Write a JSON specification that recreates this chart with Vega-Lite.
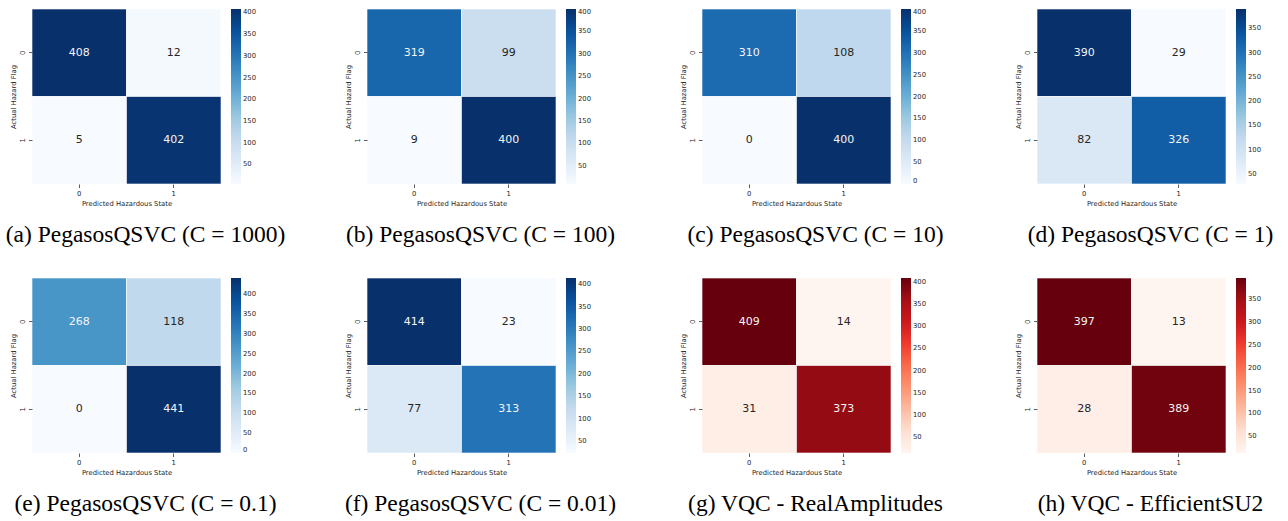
{
  "$schema": "https://vega.github.io/schema/vega-lite/v6.json",
  "background": "white",
  "padding": {"left": 5, "top": 8, "right": 5, "bottom": 2},
  "data": {"values": [
    {"panel": "a", "actual": 0, "predicted": 0, "count": 408},
    {"panel": "a", "actual": 0, "predicted": 1, "count": 12},
    {"panel": "a", "actual": 1, "predicted": 0, "count": 5},
    {"panel": "a", "actual": 1, "predicted": 1, "count": 402},
    {"panel": "b", "actual": 0, "predicted": 0, "count": 319},
    {"panel": "b", "actual": 0, "predicted": 1, "count": 99},
    {"panel": "b", "actual": 1, "predicted": 0, "count": 9},
    {"panel": "b", "actual": 1, "predicted": 1, "count": 400},
    {"panel": "c", "actual": 0, "predicted": 0, "count": 310},
    {"panel": "c", "actual": 0, "predicted": 1, "count": 108},
    {"panel": "c", "actual": 1, "predicted": 0, "count": 0},
    {"panel": "c", "actual": 1, "predicted": 1, "count": 400},
    {"panel": "d", "actual": 0, "predicted": 0, "count": 390},
    {"panel": "d", "actual": 0, "predicted": 1, "count": 29},
    {"panel": "d", "actual": 1, "predicted": 0, "count": 82},
    {"panel": "d", "actual": 1, "predicted": 1, "count": 326},
    {"panel": "e", "actual": 0, "predicted": 0, "count": 268},
    {"panel": "e", "actual": 0, "predicted": 1, "count": 118},
    {"panel": "e", "actual": 1, "predicted": 0, "count": 0},
    {"panel": "e", "actual": 1, "predicted": 1, "count": 441},
    {"panel": "f", "actual": 0, "predicted": 0, "count": 414},
    {"panel": "f", "actual": 0, "predicted": 1, "count": 23},
    {"panel": "f", "actual": 1, "predicted": 0, "count": 77},
    {"panel": "f", "actual": 1, "predicted": 1, "count": 313},
    {"panel": "g", "actual": 0, "predicted": 0, "count": 409},
    {"panel": "g", "actual": 0, "predicted": 1, "count": 14},
    {"panel": "g", "actual": 1, "predicted": 0, "count": 31},
    {"panel": "g", "actual": 1, "predicted": 1, "count": 373},
    {"panel": "h", "actual": 0, "predicted": 0, "count": 397},
    {"panel": "h", "actual": 0, "predicted": 1, "count": 13},
    {"panel": "h", "actual": 1, "predicted": 0, "count": 28},
    {"panel": "h", "actual": 1, "predicted": 1, "count": 389}
  ]},
  "concat": [
    {
      "width": 189, "height": 175,
      "title": {"text": "(a) PegasosQSVC (C = 1000)"},
      "transform": [{"filter": "datum.panel == 'a'"}],
      "encoding": {
        "x": {"field": "predicted", "type": "ordinal", "title": "Predicted Hazardous State"},
        "y": {"field": "actual", "type": "ordinal", "title": "Actual Hazard Flag"}
      },
      "layer": [
        {"mark": {"type": "rect", "stroke": "white", "strokeWidth": 1, "strokeOpacity": 0.6},
         "encoding": {"color": {"field": "count", "type": "quantitative",
           "scale": {"range": ["#f7fbff", "#deebf7", "#c6dbef", "#9ecae1", "#6baed6", "#4292c6", "#2171b5", "#08519c", "#08306b"], "interpolate": "rgb", "zero": false, "nice": false},
           "legend": {"values": [50, 100, 150, 200, 250, 300, 350, 400]}}}},
        {"mark": {"type": "text", "fontSize": 11, "font": "DejaVu Sans"},
         "encoding": {"text": {"field": "count", "type": "quantitative"},
           "color": {"condition": {"test": "datum.count > 200", "value": "#f4f4f4"}, "value": "#262626"}}}
      ]
    },
    {
      "width": 189, "height": 175,
      "title": {"text": "(b) PegasosQSVC (C = 100)"},
      "transform": [{"filter": "datum.panel == 'b'"}],
      "encoding": {
        "x": {"field": "predicted", "type": "ordinal", "title": "Predicted Hazardous State"},
        "y": {"field": "actual", "type": "ordinal", "title": "Actual Hazard Flag"}
      },
      "layer": [
        {"mark": {"type": "rect", "stroke": "white", "strokeWidth": 1, "strokeOpacity": 0.6},
         "encoding": {"color": {"field": "count", "type": "quantitative",
           "scale": {"range": ["#f7fbff", "#deebf7", "#c6dbef", "#9ecae1", "#6baed6", "#4292c6", "#2171b5", "#08519c", "#08306b"], "interpolate": "rgb", "zero": false, "nice": false},
           "legend": {"values": [50, 100, 150, 200, 250, 300, 350, 400]}}}},
        {"mark": {"type": "text", "fontSize": 11, "font": "DejaVu Sans"},
         "encoding": {"text": {"field": "count", "type": "quantitative"},
           "color": {"condition": {"test": "datum.count > 200", "value": "#f4f4f4"}, "value": "#262626"}}}
      ]
    },
    {
      "width": 189, "height": 175,
      "title": {"text": "(c) PegasosQSVC (C = 10)"},
      "transform": [{"filter": "datum.panel == 'c'"}],
      "encoding": {
        "x": {"field": "predicted", "type": "ordinal", "title": "Predicted Hazardous State"},
        "y": {"field": "actual", "type": "ordinal", "title": "Actual Hazard Flag"}
      },
      "layer": [
        {"mark": {"type": "rect", "stroke": "white", "strokeWidth": 1, "strokeOpacity": 0.6},
         "encoding": {"color": {"field": "count", "type": "quantitative",
           "scale": {"range": ["#f7fbff", "#deebf7", "#c6dbef", "#9ecae1", "#6baed6", "#4292c6", "#2171b5", "#08519c", "#08306b"], "interpolate": "rgb", "zero": false, "nice": false},
           "legend": {"values": [0, 50, 100, 150, 200, 250, 300, 350, 400]}}}},
        {"mark": {"type": "text", "fontSize": 11, "font": "DejaVu Sans"},
         "encoding": {"text": {"field": "count", "type": "quantitative"},
           "color": {"condition": {"test": "datum.count > 200", "value": "#f4f4f4"}, "value": "#262626"}}}
      ]
    },
    {
      "width": 189, "height": 175,
      "title": {"text": "(d) PegasosQSVC (C = 1)"},
      "transform": [{"filter": "datum.panel == 'd'"}],
      "encoding": {
        "x": {"field": "predicted", "type": "ordinal", "title": "Predicted Hazardous State"},
        "y": {"field": "actual", "type": "ordinal", "title": "Actual Hazard Flag"}
      },
      "layer": [
        {"mark": {"type": "rect", "stroke": "white", "strokeWidth": 1, "strokeOpacity": 0.6},
         "encoding": {"color": {"field": "count", "type": "quantitative",
           "scale": {"range": ["#f7fbff", "#deebf7", "#c6dbef", "#9ecae1", "#6baed6", "#4292c6", "#2171b5", "#08519c", "#08306b"], "interpolate": "rgb", "zero": false, "nice": false},
           "legend": {"values": [50, 100, 150, 200, 250, 300, 350]}}}},
        {"mark": {"type": "text", "fontSize": 11, "font": "DejaVu Sans"},
         "encoding": {"text": {"field": "count", "type": "quantitative"},
           "color": {"condition": {"test": "datum.count > 200", "value": "#f4f4f4"}, "value": "#262626"}}}
      ]
    },
    {
      "width": 189, "height": 175,
      "title": {"text": "(e) PegasosQSVC (C = 0.1)"},
      "transform": [{"filter": "datum.panel == 'e'"}],
      "encoding": {
        "x": {"field": "predicted", "type": "ordinal", "title": "Predicted Hazardous State"},
        "y": {"field": "actual", "type": "ordinal", "title": "Actual Hazard Flag"}
      },
      "layer": [
        {"mark": {"type": "rect", "stroke": "white", "strokeWidth": 1, "strokeOpacity": 0.6},
         "encoding": {"color": {"field": "count", "type": "quantitative",
           "scale": {"range": ["#f7fbff", "#deebf7", "#c6dbef", "#9ecae1", "#6baed6", "#4292c6", "#2171b5", "#08519c", "#08306b"], "interpolate": "rgb", "zero": false, "nice": false},
           "legend": {"values": [0, 50, 100, 150, 200, 250, 300, 350, 400]}}}},
        {"mark": {"type": "text", "fontSize": 11, "font": "DejaVu Sans"},
         "encoding": {"text": {"field": "count", "type": "quantitative"},
           "color": {"condition": {"test": "datum.count > 200", "value": "#f4f4f4"}, "value": "#262626"}}}
      ]
    },
    {
      "width": 189, "height": 175,
      "title": {"text": "(f) PegasosQSVC (C = 0.01)"},
      "transform": [{"filter": "datum.panel == 'f'"}],
      "encoding": {
        "x": {"field": "predicted", "type": "ordinal", "title": "Predicted Hazardous State"},
        "y": {"field": "actual", "type": "ordinal", "title": "Actual Hazard Flag"}
      },
      "layer": [
        {"mark": {"type": "rect", "stroke": "white", "strokeWidth": 1, "strokeOpacity": 0.6},
         "encoding": {"color": {"field": "count", "type": "quantitative",
           "scale": {"range": ["#f7fbff", "#deebf7", "#c6dbef", "#9ecae1", "#6baed6", "#4292c6", "#2171b5", "#08519c", "#08306b"], "interpolate": "rgb", "zero": false, "nice": false},
           "legend": {"values": [50, 100, 150, 200, 250, 300, 350, 400]}}}},
        {"mark": {"type": "text", "fontSize": 11, "font": "DejaVu Sans"},
         "encoding": {"text": {"field": "count", "type": "quantitative"},
           "color": {"condition": {"test": "datum.count > 200", "value": "#f4f4f4"}, "value": "#262626"}}}
      ]
    },
    {
      "width": 189, "height": 175,
      "title": {"text": "(g) VQC - RealAmplitudes"},
      "transform": [{"filter": "datum.panel == 'g'"}],
      "encoding": {
        "x": {"field": "predicted", "type": "ordinal", "title": "Predicted Hazardous State"},
        "y": {"field": "actual", "type": "ordinal", "title": "Actual Hazard Flag"}
      },
      "layer": [
        {"mark": {"type": "rect", "stroke": "white", "strokeWidth": 1, "strokeOpacity": 0.6},
         "encoding": {"color": {"field": "count", "type": "quantitative",
           "scale": {"range": ["#fff5f0", "#fee0d2", "#fcbba1", "#fc9272", "#fb6a4a", "#ef3b2c", "#cb181d", "#a50f15", "#67000d"], "interpolate": "rgb", "zero": false, "nice": false},
           "legend": {"values": [50, 100, 150, 200, 250, 300, 350, 400]}}}},
        {"mark": {"type": "text", "fontSize": 11, "font": "DejaVu Sans"},
         "encoding": {"text": {"field": "count", "type": "quantitative"},
           "color": {"condition": {"test": "datum.count > 200", "value": "#f4f4f4"}, "value": "#262626"}}}
      ]
    },
    {
      "width": 189, "height": 175,
      "title": {"text": "(h) VQC - EfficientSU2"},
      "transform": [{"filter": "datum.panel == 'h'"}],
      "encoding": {
        "x": {"field": "predicted", "type": "ordinal", "title": "Predicted Hazardous State"},
        "y": {"field": "actual", "type": "ordinal", "title": "Actual Hazard Flag"}
      },
      "layer": [
        {"mark": {"type": "rect", "stroke": "white", "strokeWidth": 1, "strokeOpacity": 0.6},
         "encoding": {"color": {"field": "count", "type": "quantitative",
           "scale": {"range": ["#fff5f0", "#fee0d2", "#fcbba1", "#fc9272", "#fb6a4a", "#ef3b2c", "#cb181d", "#a50f15", "#67000d"], "interpolate": "rgb", "zero": false, "nice": false},
           "legend": {"values": [50, 100, 150, 200, 250, 300, 350]}}}},
        {"mark": {"type": "text", "fontSize": 11, "font": "DejaVu Sans"},
         "encoding": {"text": {"field": "count", "type": "quantitative"},
           "color": {"condition": {"test": "datum.count > 200", "value": "#f4f4f4"}, "value": "#262626"}}}
      ]
    }
  ],
  "columns": 4,
  "spacing": {"row": 94, "column": 146},
  "bounds": "flush",
  "resolve": {"scale": {"color": "independent"}},
  "config": {
    "view": {"stroke": null},
    "font": "DejaVu Sans",
    "axis": {
      "domain": false, "ticks": true, "tickSize": 3.5, "tickColor": "#333333", "tickWidth": 0.8,
      "labelFont": "DejaVu Sans", "labelFontSize": 6.8, "labelColor": "#262626", "labelPadding": 3,
      "titleFont": "DejaVu Sans", "titleFontSize": 6.8, "titleFontWeight": "normal", "titleColor": "#262626", "titlePadding": 3,
      "grid": false
    },
    "axisX": {"labelAngle": 0},
    "axisY": {"labelAngle": 270, "labelAlign": "center", "labelBaseline": "bottom"},
    "legend": {
      "orient": "right", "offset": 10, "padding": 0,
      "gradientLength": 175, "gradientThickness": 10, "gradientStrokeWidth": 0,
      "labelFont": "DejaVu Sans", "labelFontSize": 6.8, "labelColor": "#262626", "labelOffset": 6,
      "labelOverlap": false, "labelBaseline": "middle", "title": null
    },
    "title": {
      "orient": "bottom", "anchor": "middle", "frame": "group", "dx": 19,
      "font": "Liberation Serif", "fontSize": 23.5, "fontWeight": "normal", "color": "black",
      "offset": 16
    }
  }
}
